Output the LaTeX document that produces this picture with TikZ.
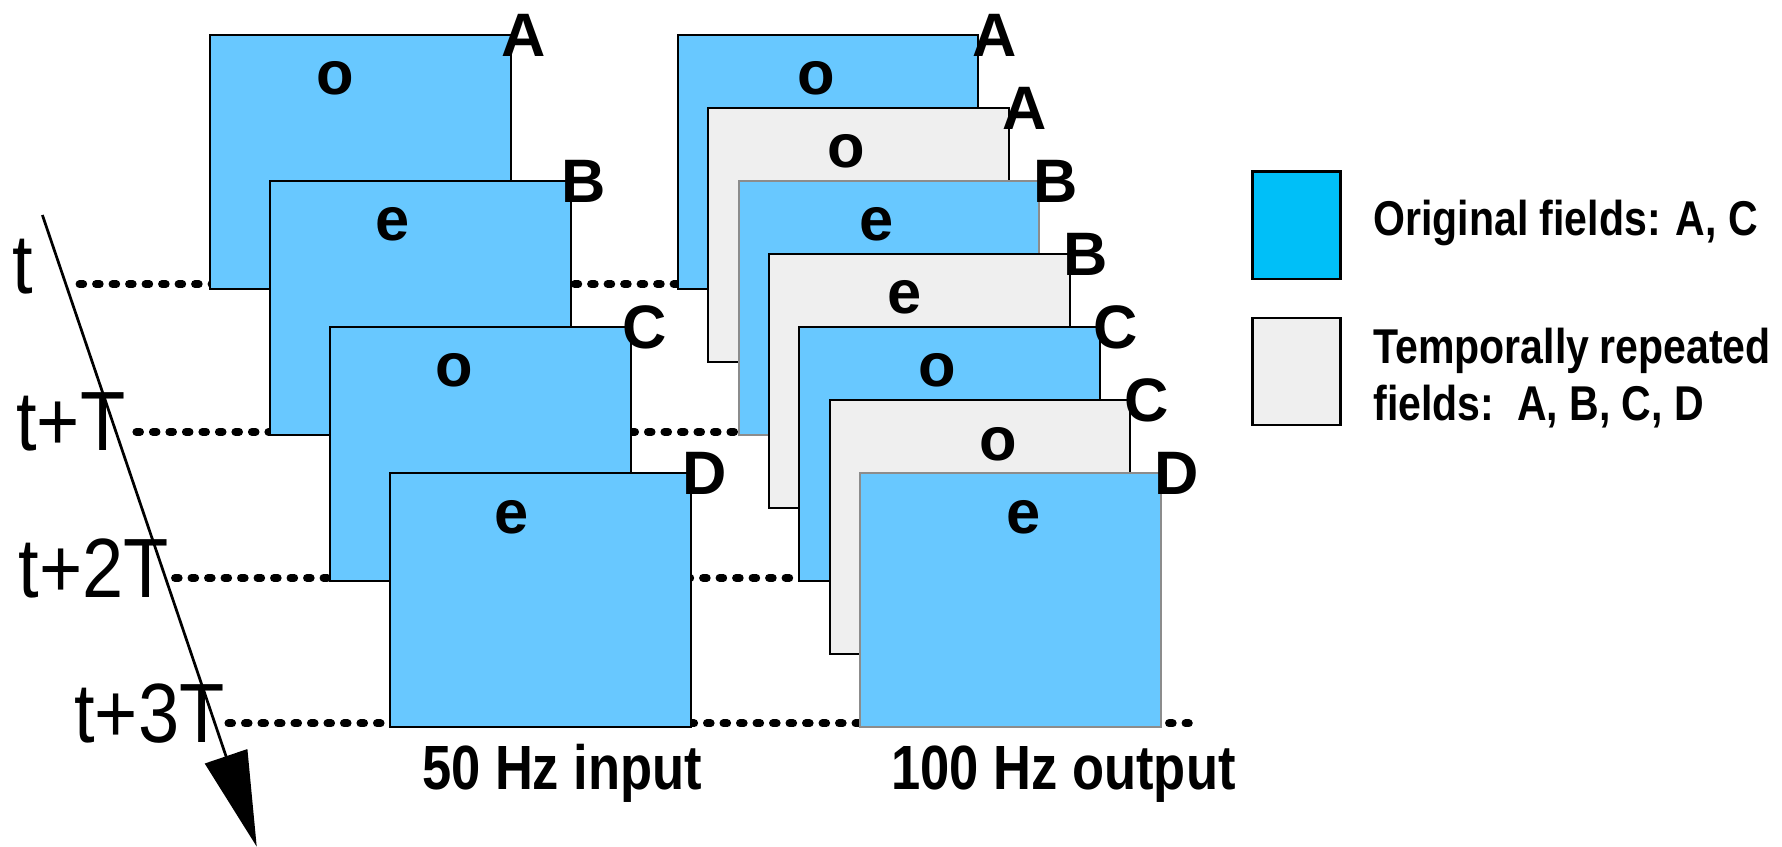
\documentclass[tikz,border=0pt]{standalone}
\usepackage{fontspec}
\setmainfont{Liberation Sans}
\newfontfamily\narrowfont[FakeStretch=0.88]{Liberation Sans}
\newfontfamily\condfont[FakeStretch=0.84]{Liberation Sans}
\usetikzlibrary{arrows.meta}
\pgfdeclarelayer{bg}
\pgfsetlayers{bg,main}
\definecolor{fieldblue}{HTML}{68C8FF}
\definecolor{legendblue}{HTML}{00BFF8}
\definecolor{repgray}{HTML}{EFEFEF}
\definecolor{edgegray}{HTML}{8C8C8C}

\begin{document}
\begin{tikzpicture}[x=0.5pt, y=-0.5pt,
    field/.style={draw, line width=0.9pt, anchor=north west, inner sep=0pt,
      minimum width=132.25pt, minimum height=111.75pt},
    parity/.style={anchor=base, inner sep=0pt, font=\fontsize{27}{30}\selectfont\bfseries},
    inname/.style={anchor=base west, inner sep=0pt, xshift=-4.5pt, yshift=-10pt,
      font=\fontsize{27}{30}\selectfont\bfseries},
    outname/.style={inname, xshift=1.2pt},
    timelbl/.style={anchor=base west, inner sep=0pt, font=\narrowfont\fontsize{37}{40}\selectfont},
    dotline/.style={line width=3.5pt, line cap=round, dash pattern=on 1.6pt off 5.66pt},
    timearrow/.style={line width=1.2pt, -{Triangle[length=42pt, width=19.5pt]}},
    legbox/.style={draw, line width=1pt, anchor=north west, inner sep=0pt,
      minimum width=38.75pt, minimum height=47.25pt},
    legtext/.style={anchor=base west, inner sep=0pt, font=\condfont\bfseries\fontsize{21.5}{25}\selectfont},
    ratelbl/.style={anchor=base west, inner sep=0pt, font=\condfont\bfseries\fontsize{27.5}{30}\selectfont}]
  \useasboundingbox (0,0) rectangle (1568,745);

  % 50 Hz input
  \node[field, fill=fieldblue] (inA) at (184,30) {};
  \node[parity] (inAp) at (295,83.5) {o};
  \node[inname] (inAn) at (inA.north east) {A};
  \node[field, fill=fieldblue] (inB) at (236.8,158.5) {};
  \node[parity] (inBp) at (345,212) {e};
  \node[inname] (inBn) at (inB.north east) {B};
  \node[field, fill=fieldblue] (inC) at (289.6,287) {};
  \node[parity] (inCp) at (400,340.5) {o};
  \node[inname] (inCn) at (inC.north east) {C};
  \node[field, fill=fieldblue] (inD) at (342.4,415.5) {};
  \node[parity] (inDp) at (450,469) {e};
  \node[inname] (inDn) at (inD.north east) {D};

  % 100 Hz output
  \node[field, fill=fieldblue] (outA) at (595.5,30) {};
  \node[parity] (outAp) at (718,83.5) {o};
  \node[outname] (outAn) at (outA.north east) {A};
  \node[field, fill=repgray] (outAr) at (622.25,94.25) {};
  \node[parity] (outArp) at (745,147.75) {o};
  \node[outname] (outArn) at (outAr.north east) {A};
  \node[field, fill=fieldblue, draw=edgegray] (outB) at (649,158.5) {};
  \node[parity] (outBp) at (771,212) {e};
  \node[outname] (outBn) at (outB.north east) {B};
  \node[field, fill=repgray] (outBr) at (675.75,222.75) {};
  \node[parity] (outBrp) at (796,276.25) {e};
  \node[outname] (outBrn) at (outBr.north east) {B};
  \node[field, fill=fieldblue] (outC) at (702.5,287) {};
  \node[parity] (outCp) at (825,340.5) {o};
  \node[outname] (outCn) at (outC.north east) {C};
  \node[field, fill=repgray] (outCr) at (729.25,351.25) {};
  \node[parity] (outCrp) at (878,404.75) {o};
  \node[outname] (outCrn) at (outCr.north east) {C};
  \node[field, fill=fieldblue, draw=edgegray] (outD) at (756,415.5) {};
  \node[parity] (outDp) at (901,469) {e};
  \node[outname] (outDn) at (outD.north east) {D};

  % time axis
  \node[timelbl] (t0) at (11,258) {t};
  \node[timelbl] (t1) at (14,396.5) {t+T};
  \node[timelbl] (t2) at (16,526) {t+2T};
  \node[timelbl] (t3) at (65,653) {t+3T};
  \coordinate (s0) at (70,250);
  \coordinate (s1) at (120,380);
  \coordinate (s2) at (154,508.5);
  \coordinate (s3) at (201,636.5);
  \coordinate (e3) at (1046,636.5);
  \begin{pgfonlayer}{bg}
    \draw[dotline] (s0) -- (outA.west |- s0);
    \draw[dotline] (s1) -- (outB.west |- s1);
    \draw[dotline] (s2) -- (outC.west |- s2);
    \draw[dotline] (s3) -- (e3);
  \end{pgfonlayer}
  \coordinate (arrTop) at (37.3,189.2);
  \coordinate (arrTip) at (225.9,745);
  \draw[timearrow] (arrTop) -- (arrTip);

  \node[ratelbl] (inRate) at (371,695) {50 Hz input};
  \node[ratelbl] (outRate) at (784,695) {100 Hz output};

  % legend
  \node[legbox, fill=legendblue] (legOrig) at (1101,150) {};
  \node[legtext] (legOrigTxt) at (1208,206.8) {Original fields: A, C};
  \node[legbox, fill=repgray] (legRep) at (1101,278.5) {};
  \node[legtext] (legRepTxt) at (1208,319.6) {\makebox[174.8pt][s]{Temporally repeated}};
  \node[legtext] (legRepTxt2) at (1208,369.6) {fields:\ \ A, B, C, D};
\end{tikzpicture}
\end{document}
